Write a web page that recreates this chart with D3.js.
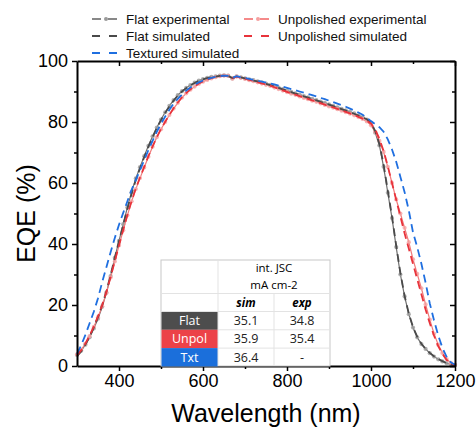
<!DOCTYPE html>
<html>
<head>
<meta charset="utf-8">
<script src="https://cdn.jsdelivr.net/npm/d3@7"></script>
<style>
body { margin: 0; background: #fff; }
svg { display: block; }
</style>
</head>
<body>
<div id="chart"></div>
<script>
// wavelength grid (nm)
var wavelengths = [300,310,320,330,340,350,360,370,380,390,400,410,420,430,440,450,460,470,480,490,
  500,510,520,530,540,550,560,570,580,590,600,610,620,630,640,650,660,670,680,690,
  700,710,720,730,740,750,760,770,780,790,800,810,820,830,840,850,860,870,880,890,
  900,910,920,930,940,950,960,970,980,990,1000,1010,1020,1030,1040,1050,1060,1070,1080,1090,
  1100,1110,1120,1130,1140,1150,1160,1170,1180,1190,1200];

// EQE (%)
var flatExp = [3.6,5.0,7.0,9.4,12.3,15.5,19.4,24.0,29.5,35.5,41.0,46.5,52.0,57.0,61.5,65.2,68.8,72.2,75.3,78.2,
  80.8,83.2,85.3,87.2,88.8,90.1,91.2,92.1,92.9,93.6,94.1,94.5,94.8,95.0,95.2,95.3,95.2,94.3,95.0,94.6,
  94.3,94.0,93.7,93.3,93.0,92.6,92.2,91.8,91.3,90.8,90.3,89.9,89.4,89.0,88.5,88.1,87.6,87.2,86.7,86.3,
  85.8,85.3,84.8,84.3,83.8,83.3,82.8,82.2,81.6,80.8,79.6,76.5,72.3,65.3,56.8,48.5,39.0,30.0,22.8,17.0,
  12.6,9.4,7.2,5.6,4.2,3.1,2.2,1.5,0.9,0.5,0.3];

var flatSim = [3.2,4.8,7.0,9.6,12.6,16.0,20.0,24.5,29.8,35.5,41.0,46.3,51.6,56.5,61.0,64.8,68.5,71.9,75.0,78.0,
  80.6,83.0,85.1,87.0,88.6,90.0,91.1,92.0,92.8,93.5,94.0,94.4,94.7,94.9,95.1,95.2,95.1,94.4,94.9,94.6,
  94.3,94.0,93.6,93.3,92.9,92.5,92.1,91.7,91.2,90.7,90.2,89.8,89.3,88.9,88.4,88.0,87.5,87.1,86.6,86.2,
  85.7,85.2,84.7,84.2,83.7,83.2,82.7,82.1,81.5,80.9,79.8,77.0,72.8,66.0,57.5,49.0,39.5,30.5,23.0,17.2,
  12.8,9.6,7.3,5.6,4.3,3.2,2.3,1.6,1.0,0.5,0.2];

var unpolExp = [3.8,5.3,7.3,9.8,12.8,16.0,19.6,24.0,29.0,34.3,39.5,44.5,49.4,54.0,58.0,61.6,65.1,68.6,71.9,75.0,
  77.6,80.0,82.3,84.4,86.3,88.0,89.4,90.6,91.6,92.5,93.2,93.8,94.3,94.7,95.0,95.2,95.1,94.2,94.9,94.5,
  94.1,93.7,93.4,93.0,92.6,92.2,91.8,91.3,90.8,90.3,89.8,89.3,88.9,88.4,87.9,87.5,87.0,86.6,86.1,85.6,
  85.1,84.7,84.2,83.7,83.2,82.7,82.2,81.6,81.0,80.2,78.9,76.8,73.8,70.2,65.3,60.0,54.6,50.0,45.3,40.6,
  35.0,30.2,25.5,20.2,15.2,10.6,7.0,4.3,2.3,1.0,0.4];

var unpolSim = [3.5,5.2,7.4,10.0,13.0,16.3,20.0,24.3,29.2,34.4,39.5,44.6,49.5,54.1,58.2,61.8,65.3,68.8,72.0,75.0,
  77.7,80.1,82.4,84.5,86.4,88.1,89.5,90.7,91.7,92.6,93.3,93.9,94.4,94.8,95.0,95.2,95.1,94.4,94.9,94.5,
  94.2,93.8,93.5,93.1,92.7,92.3,91.9,91.4,90.9,90.4,89.9,89.4,89.0,88.5,88.0,87.6,87.1,86.7,86.2,85.7,
  85.2,84.8,84.3,83.8,83.3,82.8,82.3,81.7,81.1,80.4,79.5,77.5,74.5,70.5,65.5,60.0,54.5,49.0,43.5,38.5,
  33.5,28.5,23.5,18.5,14.0,10.0,6.5,4.0,2.0,0.8,0.3];

var texSim = [4.0,6.8,10.2,14.0,17.8,22.2,27.5,32.4,37.3,42.0,46.3,50.2,54.0,57.8,61.0,64.2,67.5,70.8,73.8,76.8,
  79.4,81.8,84.0,86.0,87.6,89.0,90.3,91.3,92.2,93.0,93.6,94.1,94.5,94.8,95.0,95.2,95.1,94.5,95.0,94.7,
  94.4,94.1,93.8,93.5,93.2,92.9,92.6,92.3,91.9,91.6,91.2,90.8,90.4,90.0,89.6,89.2,88.8,88.4,87.9,87.5,
  87.0,86.5,86.0,85.5,85.0,84.4,83.8,83.1,82.4,81.4,80.3,79.3,78.3,76.8,74.3,71.0,67.0,62.0,57.0,51.0,
  43.8,39.0,33.5,27.3,20.5,15.0,10.0,6.0,3.0,1.2,0.4];

var xTicks = [400, 600, 800, 1000, 1200];
var xMinor = [500, 700, 900, 1100];
var yTicks = [0, 20, 40, 60, 80, 100];
var yMinor = [10, 30, 50, 70, 90];

// table
var tableRows = ["Flat", "Unpol", "Txt"];
var tableSim = ["35.1", "35.9", "36.4"];
var tableExp = ["34.8", "35.4", "-"];
var tableColors = ["#4d4d4d", "#ec4248", "#1b6fdb"];

var width = 476;
var height = 429;
var margin = { top: 61, right: 21, bottom: 63, left: 77 };

var svg = d3.select("#chart")
  .append("svg")
  .attr("width", width)
  .attr("height", height);

var x = d3.scaleLinear()
  .domain([300, 1200])
  .range([margin.left, width - margin.right]);

var y = d3.scaleLinear()
  .domain([0, 100])
  .range([height - margin.bottom, margin.top]);

var font = "Arial, 'Liberation Sans', sans-serif";

function pts(vals) {
  return wavelengths.map(function(w, i) { return [w, vals[i]]; });
}

var line = d3.line()
  .x(function(d) { return x(d[0]); })
  .y(function(d) { return y(d[1]); });

var plot = svg.append("g");

// experimental curves: thin line + circle markers
function expCurve(vals, lineColor, dotColor) {
  plot.append("path")
    .datum(pts(vals))
    .attr("d", line)
    .attr("fill", "none")
    .attr("stroke", lineColor)
    .attr("stroke-width", 1.2);
  plot.append("g")
    .selectAll("circle")
    .data(pts(vals))
    .enter()
    .append("circle")
    .attr("cx", function(d) { return x(d[0]); })
    .attr("cy", function(d) { return y(d[1]); })
    .attr("r", 2.1)
    .attr("fill", dotColor)
    .attr("fill-opacity", 0.8);
}

function simCurve(vals, color) {
  plot.append("path")
    .datum(pts(vals))
    .attr("d", line)
    .attr("fill", "none")
    .attr("stroke", color)
    .attr("stroke-width", 1.8)
    .attr("stroke-dasharray", "8,5");
}

expCurve(flatExp, "#6e6e6e", "#9a9a9a");
expCurve(unpolExp, "#f07a7a", "#f5a0a0");
simCurve(flatSim, "#4a4a4a");
simCurve(unpolSim, "#e8333b");
simCurve(texSim, "#1f6fe0");

// axes
function styleAxis(g) {
  g.select(".domain").attr("stroke", "#000").attr("stroke-width", 2);
  g.selectAll(".tick line").attr("stroke", "#000").attr("stroke-width", 1.5);
  g.selectAll("text").attr("font-family", font).attr("font-size", 18).attr("fill", "#000");
}

svg.append("g")
  .attr("transform", "translate(0," + y(0) + ")")
  .call(d3.axisBottom(x).tickValues(xTicks).tickSize(5).tickSizeOuter(0).tickPadding(3).tickFormat(d3.format("d")))
  .call(styleAxis);
svg.append("g")
  .attr("transform", "translate(0," + y(0) + ")")
  .call(d3.axisBottom(x).tickValues(xMinor).tickSize(3).tickFormat(""))
  .call(styleAxis)
  .select(".domain").remove();

svg.append("g")
  .attr("transform", "translate(0," + y(100) + ")")
  .call(d3.axisTop(x).tickValues(xTicks).tickSize(-5).tickSizeOuter(0).tickFormat(""))
  .call(styleAxis);
svg.append("g")
  .attr("transform", "translate(0," + y(100) + ")")
  .call(d3.axisTop(x).tickValues(xMinor).tickSize(-3).tickFormat(""))
  .call(styleAxis)
  .select(".domain").remove();

svg.append("g")
  .attr("transform", "translate(" + x(300) + ",0)")
  .call(d3.axisLeft(y).tickValues(yTicks).tickSize(5).tickSizeOuter(0).tickPadding(4))
  .call(styleAxis);
svg.append("g")
  .attr("transform", "translate(" + x(300) + ",0)")
  .call(d3.axisLeft(y).tickValues(yMinor).tickSize(3).tickFormat(""))
  .call(styleAxis)
  .select(".domain").remove();

svg.append("g")
  .attr("transform", "translate(" + x(1200) + ",0)")
  .call(d3.axisRight(y).tickValues(yTicks).tickSize(-5).tickSizeOuter(0).tickFormat(""))
  .call(styleAxis);
svg.append("g")
  .attr("transform", "translate(" + x(1200) + ",0)")
  .call(d3.axisRight(y).tickValues(yMinor).tickSize(-3).tickFormat(""))
  .call(styleAxis)
  .select(".domain").remove();

// axis titles
svg.append("text")
  .attr("x", (x(300) + x(1200)) / 2)
  .attr("y", 422)
  .attr("text-anchor", "middle")
  .attr("font-family", font)
  .attr("font-size", 25)
  .text("Wavelength (nm)");

svg.append("text")
  .attr("transform", "translate(35," + (y(0) + y(100)) / 2 + ") rotate(-90)")
  .attr("text-anchor", "middle")
  .attr("font-family", font)
  .attr("font-size", 25)
  .text("EQE (%)");

// legend
var legend = [
  { name: "Flat experimental", color: "#888", dot: "#9a9a9a", exp: true, lx: 92, ly: 19 },
  { name: "Unpolished experimental", color: "#f58a8a", dot: "#f5a0a0", exp: true, lx: 244, ly: 19 },
  { name: "Flat simulated", color: "#4a4a4a", exp: false, lx: 92, ly: 36 },
  { name: "Unpolished simulated", color: "#e8333b", exp: false, lx: 244, ly: 36 },
  { name: "Textured simulated", color: "#1f6fe0", exp: false, lx: 92, ly: 53 }
];

var lg = svg.append("g").selectAll("g")
  .data(legend)
  .enter()
  .append("g")
  .attr("transform", function(d) { return "translate(" + d.lx + "," + d.ly + ")"; });

lg.append("line")
  .attr("x1", 0).attr("x2", 25)
  .attr("stroke", function(d) { return d.color; })
  .attr("stroke-width", 1.8)
  .attr("stroke-dasharray", function(d) { return d.exp ? "9,7" : "8,9"; });

lg.filter(function(d) { return d.exp; })
  .append("circle")
  .attr("cx", 14).attr("r", 2)
  .attr("fill", function(d) { return d.dot; });

lg.append("text")
  .attr("x", 34)
  .attr("y", 4.5)
  .attr("font-family", font)
  .attr("font-size", 13.5)
  .attr("fill", "#111")
  .text(function(d) { return d.name; });

// JSC table
var tf = "'Open Sans', 'Noto Sans', sans-serif";
var tx0 = 161, tx1 = 218, tx2 = 274, tx3 = 330;
var ty0 = 260, ty1 = 293.5, ty2 = 311.5;
var rowH = 18.3;
var tbl = svg.append("g");

tbl.append("rect")
  .attr("x", tx0).attr("y", ty0)
  .attr("width", tx3 - tx0).attr("height", y(0) - ty0)
  .attr("fill", "#fff")
  .attr("stroke", "#c8c8c8");

tbl.selectAll(".rowbg")
  .data(tableRows)
  .enter()
  .append("rect")
  .attr("x", tx0 + 0.5)
  .attr("y", function(d, i) { return ty2 + i * rowH; })
  .attr("width", tx1 - tx0 - 0.5)
  .attr("height", rowH)
  .attr("fill", function(d, i) { return tableColors[i]; });

var hl = [ty1, ty2, ty2 + rowH, ty2 + 2 * rowH];
tbl.selectAll(".hl")
  .data(hl)
  .enter()
  .append("line")
  .attr("x1", function(d, i) { return i < 2 ? tx0 : tx1; })
  .attr("x2", tx3)
  .attr("y1", function(d) { return d; })
  .attr("y2", function(d) { return d; })
  .attr("stroke", "#e3e3e3");

tbl.append("line")
  .attr("x1", tx1).attr("x2", tx1)
  .attr("y1", ty0).attr("y2", y(0))
  .attr("stroke", "#e3e3e3");
tbl.append("line")
  .attr("x1", tx2).attr("x2", tx2)
  .attr("y1", ty1).attr("y2", y(0))
  .attr("stroke", "#e3e3e3");

tbl.append("text")
  .attr("x", (tx1 + tx3) / 2).attr("y", 272)
  .attr("text-anchor", "middle")
  .attr("font-family", tf).attr("font-size", 11.5)
  .text("int. JSC");
tbl.append("text")
  .attr("x", (tx1 + tx3) / 2).attr("y", 288.5)
  .attr("text-anchor", "middle")
  .attr("font-family", tf).attr("font-size", 11.5)
  .text("mA cm-2");

[["sim", (tx1 + tx2) / 2], ["exp", (tx2 + tx3) / 2]].forEach(function(h) {
  tbl.append("text")
    .attr("x", h[1]).attr("y", 307)
    .attr("text-anchor", "middle")
    .attr("font-family", tf).attr("font-size", 11.5)
    .attr("font-weight", "bold").attr("font-style", "italic")
    .text(h[0]);
});

tbl.selectAll(".rl")
  .data(tableRows)
  .enter()
  .append("text")
  .attr("x", (tx0 + tx1) / 2)
  .attr("y", function(d, i) { return ty2 + i * rowH + 13.5; })
  .attr("text-anchor", "middle")
  .attr("font-family", tf).attr("font-size", 12.5)
  .attr("fill", "#fff")
  .text(function(d) { return d; });

tbl.selectAll(".rs")
  .data(tableSim)
  .enter()
  .append("text")
  .attr("x", (tx1 + tx2) / 2)
  .attr("y", function(d, i) { return ty2 + i * rowH + 13.5; })
  .attr("text-anchor", "middle")
  .attr("font-family", tf).attr("font-size", 12.5)
  .attr("fill", "#222")
  .text(function(d) { return d; });

tbl.selectAll(".re")
  .data(tableExp)
  .enter()
  .append("text")
  .attr("x", (tx2 + tx3) / 2)
  .attr("y", function(d, i) { return ty2 + i * rowH + 13.5; })
  .attr("text-anchor", "middle")
  .attr("font-family", tf).attr("font-size", 12.5)
  .attr("fill", "#222")
  .text(function(d) { return d; });
</script>
</body>
</html>
